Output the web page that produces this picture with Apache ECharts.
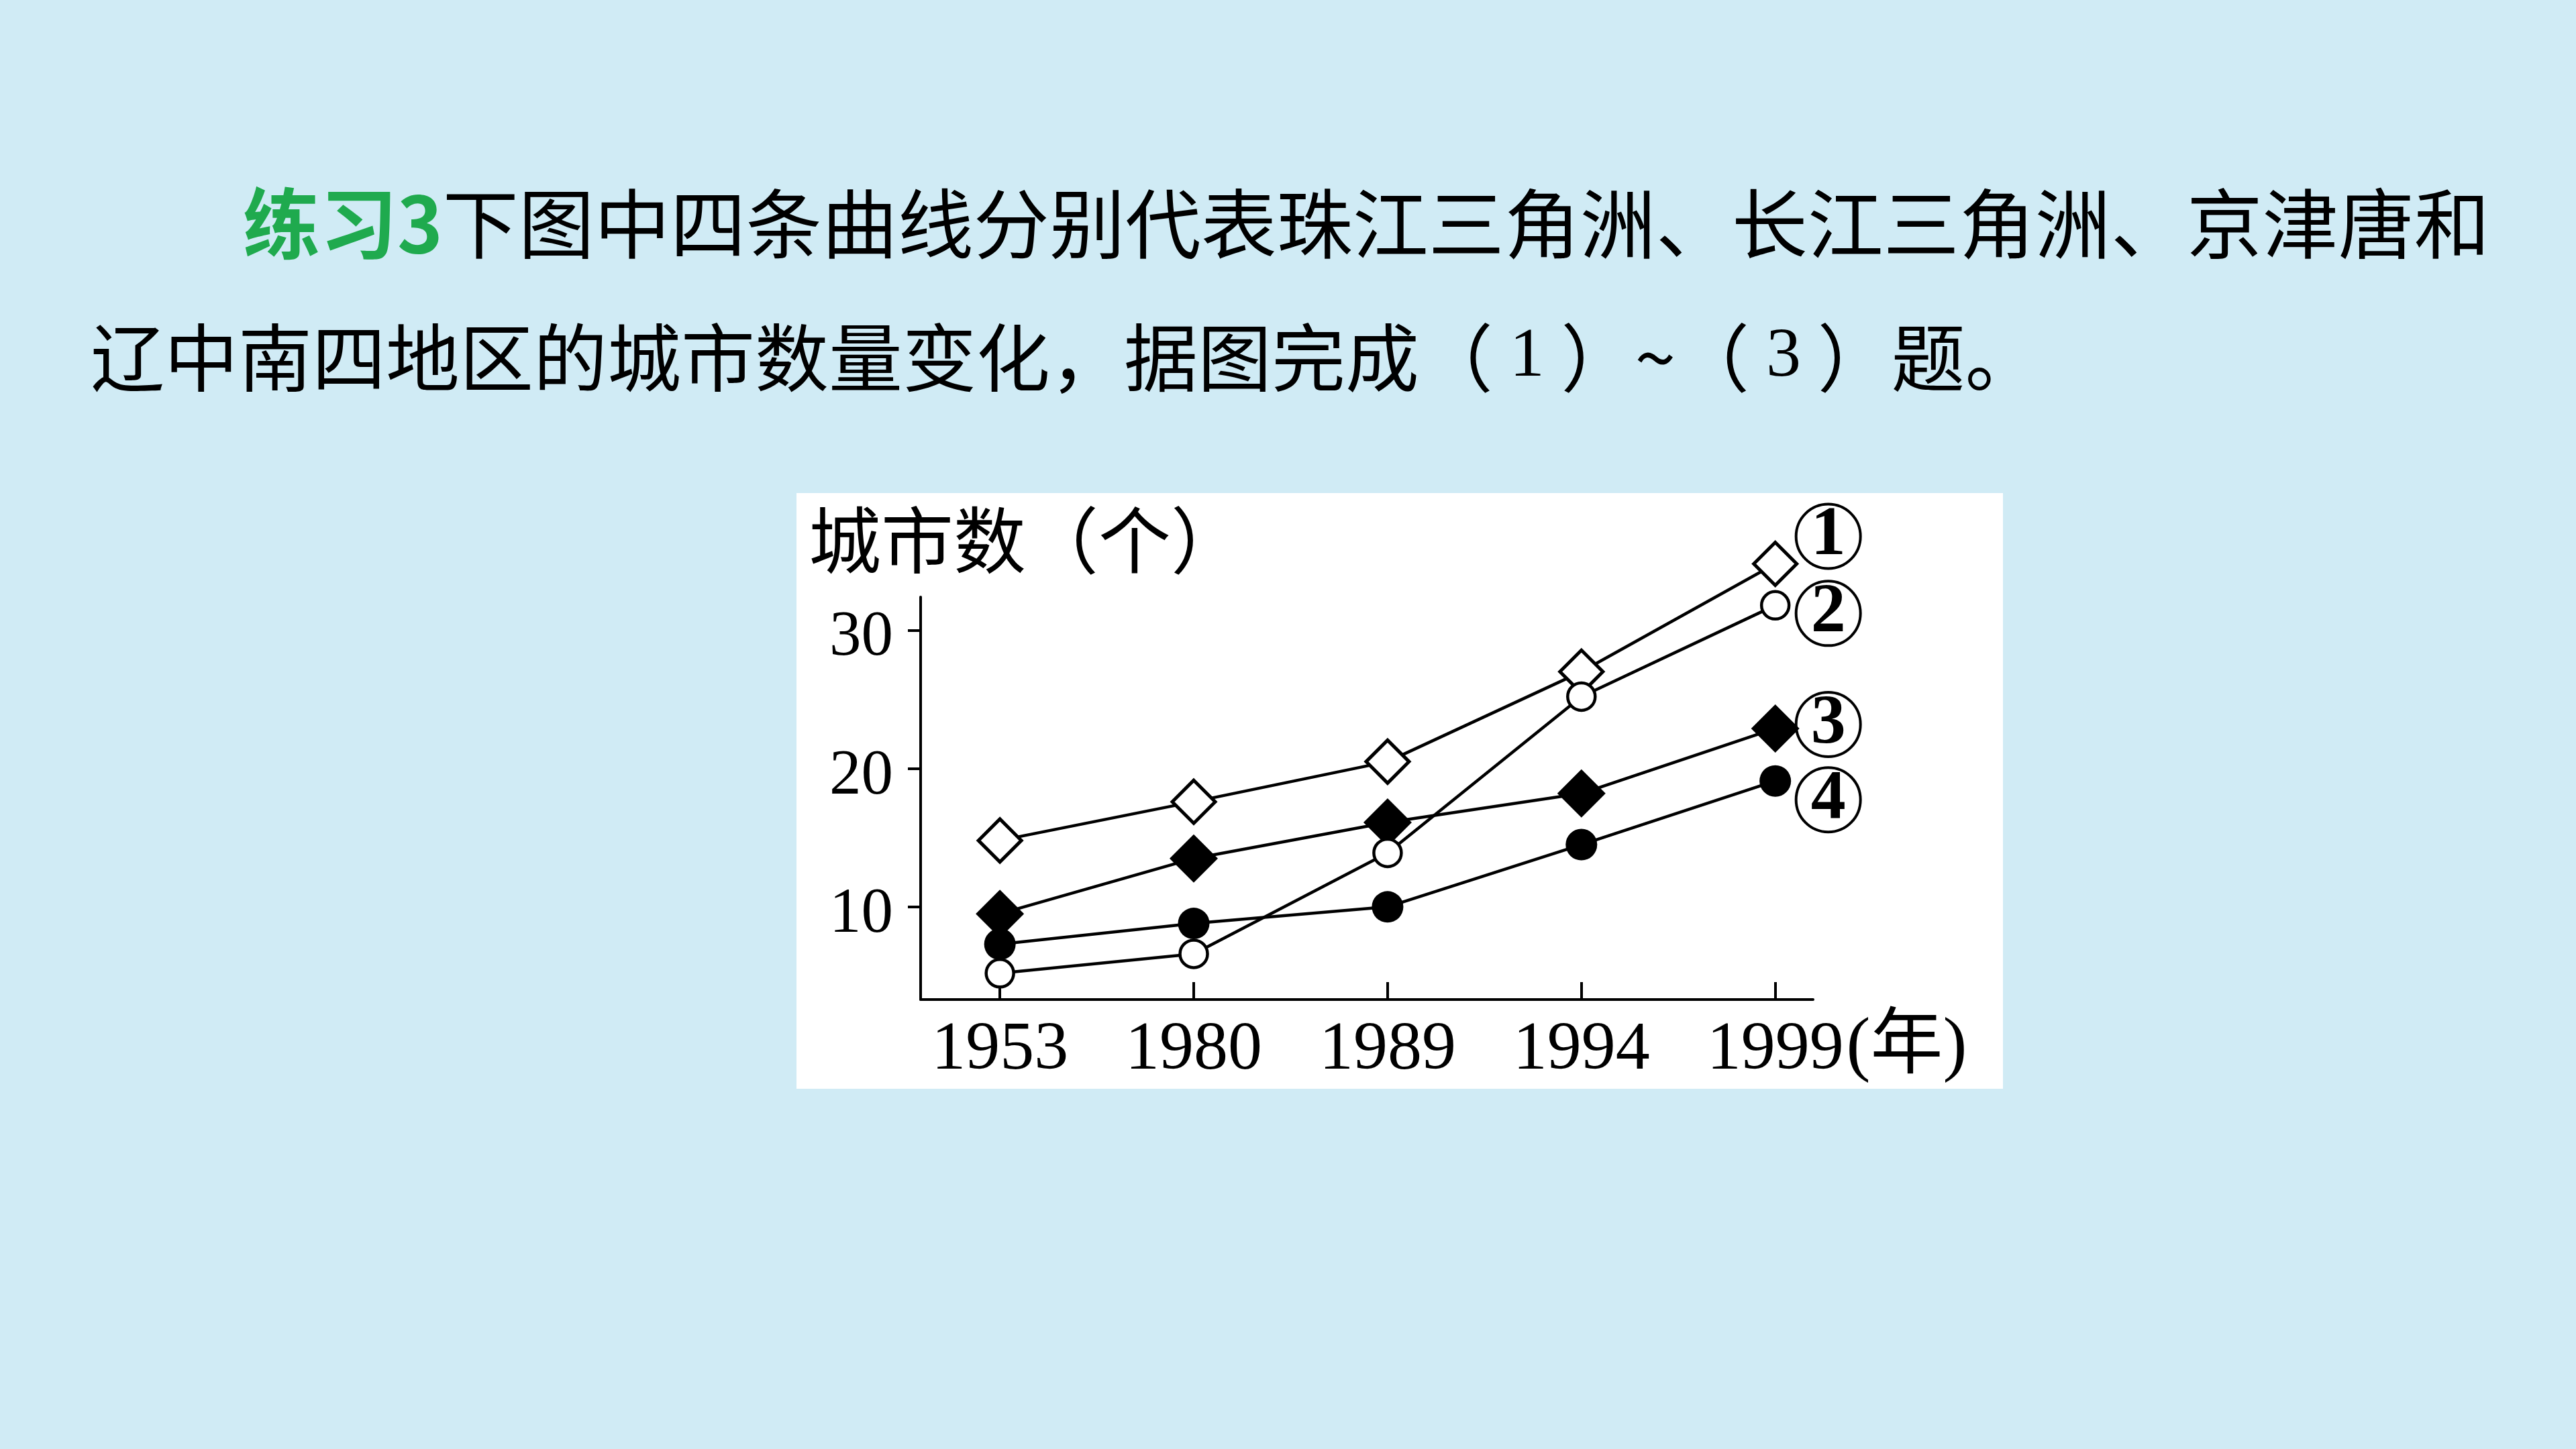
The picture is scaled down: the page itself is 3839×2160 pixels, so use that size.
<!DOCTYPE html>
<html>
<head>
<meta charset="utf-8">
<title>城市数量变化</title>
<script src="https://cdn.jsdelivr.net/npm/echarts@6.0.0/dist/echarts.min.js"></script>
<style>
  html, body { margin: 0; padding: 0; background: #d0ebf5; }
  #main { width: 3839px; height: 2160px; }
</style>
</head>
<body>
<div id="main"></div>
<script>
// 年份（横轴刻度）
var years = ['1953', '1980', '1989', '1994', '1999'];
// 纵轴刻度
var yTicks = [10, 20, 30];
// 四条曲线的城市数（个）
var s1 = [14.8, 17.6, 20.5, 27.0, 34.8];  // ① 空心菱形
var s2 = [5.2, 6.6, 13.9, 25.2, 31.8];    // ② 空心圆
var s3 = [9.5, 13.5, 16.1, 18.2, 22.9];   // ③ 实心菱形
var s4 = [7.3, 8.8, 10.0, 14.5, 19.1];    // ④ 实心圆
var tags = ['1', '2', '3', '4'];

function pairs(arr) {
  return arr.map(function (v, i) { return [i, v]; });
}

// 圆圈编号 ①②③④
function circleTag(n, dx, dy) {
  return {
    show: true,
    distance: 0,
    offset: [dx, dy],
    formatter: '{c|' + n + '}',
    rich: {
      c: {
        width: 96,
        height: 96,
        lineHeight: 96,
        align: 'center',
        verticalAlign: 'middle',
        borderColor: '#000',
        borderWidth: 4,
        borderRadius: 50,
        fontFamily: 'Liberation Serif',
        fontWeight: 'bold',
        fontSize: 104,
        color: '#000'
      }
    }
  };
}

var myChart = echarts.init(document.getElementById('main'));

var option = {
  animation: false,
  backgroundColor: '#d0ebf5',
  graphic: [
    {
      type: 'rect',
      z: -100,
      silent: true,
      shape: { x: 1187, y: 735, width: 1798, height: 888 },
      style: { fill: '#ffffff' }
    }
  ],
  title: [
    {
      text: '{g|练习3}下图中四条曲线分别代表珠江三角洲、长江三角洲、京津唐和',
      left: 362,
      top: 276,
      padding: 0,
      textStyle: {
        fontFamily: 'Noto Sans CJK SC',
        fontSize: 113,
        fontWeight: 'normal',
        color: '#000',
        rich: {
          g: {
            fontFamily: 'Noto Sans CJK SC',
            fontSize: 115,
            fontWeight: 'bold',
            color: '#1faa4e'
          }
        }
      }
    },
    {
      text: '辽中南四地区的城市数量变化，据图完成（ {d|1} ）~（ {d|3} ）题。',
      left: 135,
      top: 478,
      padding: 0,
      textStyle: {
        fontFamily: 'Noto Sans CJK SC',
        fontSize: 110,
        fontWeight: 'normal',
        color: '#000',
        rich: {
          d: {
            fontFamily: 'Liberation Serif',
            fontSize: 104,
            color: '#000'
          }
        }
      }
    },
    {
      text: '城市数（个）',
      left: 1205,
      top: 751,
      padding: 0,
      textStyle: {
        fontFamily: 'Noto Sans CJK SC',
        fontSize: 108,
        fontWeight: 'normal',
        color: '#000'
      }
    }
  ],
  grid: {
    left: 1372,
    right: 1137,
    top: 890,
    bottom: 670,
    outerBoundsMode: 'none'
  },
  xAxis: {
    type: 'value',
    min: -0.409,
    max: 4.195,
    name: '(年)',
    nameLocation: 'end',
    nameGap: 46,
    nameTextStyle: {
      fontFamily: 'Liberation Serif, Noto Sans CJK SC',
      fontSize: 108,
      color: '#000',
      align: 'left',
      verticalAlign: 'top',
      lineHeight: 146
    },
    axisLine: { onZero: false, lineStyle: { color: '#000', width: 4 } },
    axisTick: {
      inside: true,
      length: 26,
      customValues: [0, 1, 2, 3, 4],
      lineStyle: { color: '#000', width: 4 }
    },
    axisLabel: {
      customValues: [0, 1, 2, 3, 4],
      margin: 25,
      fontFamily: 'Liberation Serif',
      fontSize: 102,
      color: '#000',
      formatter: function (v) { return years[Math.round(v)]; }
    },
    splitLine: { show: false }
  },
  yAxis: {
    type: 'value',
    min: 3.3,
    max: 32.4,
    axisLine: { show: true, onZero: false, lineStyle: { color: '#000', width: 4 } },
    axisTick: {
      show: true,
      length: 19,
      customValues: yTicks,
      lineStyle: { color: '#000', width: 4 }
    },
    axisLabel: {
      customValues: yTicks,
      margin: 41,
      fontFamily: 'Liberation Serif',
      fontSize: 95,
      color: '#000',
      verticalAlign: 'top',
      lineHeight: 24
    },
    splitLine: { show: false }
  },
  series: [
    {
      name: '①',
      type: 'line',
      z: 2,
      clip: false,
      data: pairs(s1),
      symbol: 'diamond',
      symbolSize: 64,
      lineStyle: { color: '#000', width: 4.5 },
      itemStyle: { color: '#fff', borderColor: '#000', borderWidth: 5 },
      endLabel: circleTag(tags[0], 31, -41)
    },
    {
      name: '③',
      type: 'line',
      z: 3,
      clip: false,
      data: pairs(s3),
      symbol: 'diamond',
      symbolSize: 72,
      lineStyle: { color: '#000', width: 4.5 },
      itemStyle: { color: '#000', borderColor: '#000', borderWidth: 0 },
      endLabel: circleTag(tags[2], 31, -6)
    },
    {
      name: '④',
      type: 'line',
      z: 4,
      clip: false,
      data: pairs(s4),
      symbol: 'circle',
      symbolSize: 47,
      lineStyle: { color: '#000', width: 4.5 },
      itemStyle: { color: '#000', borderColor: '#000', borderWidth: 0 },
      endLabel: circleTag(tags[3], 31, 28)
    },
    {
      name: '②',
      type: 'line',
      z: 5,
      clip: false,
      data: pairs(s2),
      symbol: 'circle',
      symbolSize: 41,
      lineStyle: { color: '#000', width: 4.5 },
      itemStyle: { color: '#fff', borderColor: '#000', borderWidth: 4.5 },
      endLabel: circleTag(tags[1], 31, 12)
    }
  ]
};

myChart.setOption(option);
</script>
</body>
</html>
